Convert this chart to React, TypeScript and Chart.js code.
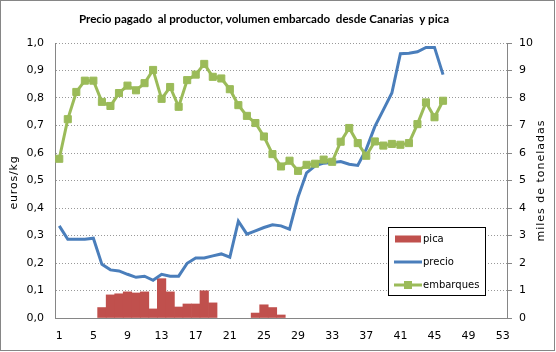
import React, { useEffect, useRef } from "react";
import { Chart, registerables } from "chart.js";

Chart.register(...registerables);

const TITLE = "Precio pagado  al productor, volumen embarcado  desde Canarias  y pica";
const LEFT_TITLE = "euros/kg";
const RIGHT_TITLE = "miles de toneladas";

const weeks = [
  "1", "2", "3", "4", "5", "6", "7", "8", "9", "10", "11", "12", "13", "14", "15", "16", "17", "18",
  "19", "20", "21", "22", "23", "24", "25", "26", "27", "28", "29", "30", "31", "32", "33", "34", "35",
  "36", "37", "38", "39", "40", "41", "42", "43", "44", "45", "46", "47", "48", "49", "50", "51", "52", "53",
];

const shownWeekLabels = ["1", "5", "9", "13", "17", "21", "25", "29", "33", "37", "41", "45", "49", "53"];

// euros/kg (left axis)
const pica = [
  null, null, null, null, null, 0.038, 0.084, 0.088, 0.095, 0.091, 0.095, 0.033, 0.143, 0.095, 0.04, 0.051,
  0.051, 0.099, 0.055, null, null, null, null, 0.018, 0.048, 0.038, 0.011, null, null, null, null, null,
  null, null, null, null, null, null, null, null, null, null, null, null, null, null, null, null, null,
  null, null, null, null,
];

// euros/kg (left axis)
const precio = [
  0.335, 0.286, 0.286, 0.286, 0.29, 0.195, 0.175, 0.171, 0.159, 0.148, 0.152, 0.137, 0.159, 0.152, 0.152,
  0.199, 0.218, 0.218, 0.226, 0.233, 0.221, 0.352, 0.305, 0.317, 0.329, 0.339, 0.335, 0.323, 0.44, 0.528,
  0.553, 0.563, 0.565, 0.569, 0.559, 0.555, 0.614, 0.696, 0.757, 0.818, 0.961, 0.963, 0.968, 0.984, 0.984,
  0.885, null, null, null, null, null, null, null,
];

// miles de toneladas (right axis)
const embarques = [
  5.79, 7.23, 8.22, 8.63, 8.63, 7.86, 7.71, 8.18, 8.45, 8.28, 8.54, 9.02, 7.97, 8.4, 7.68, 8.65, 8.85, 9.24,
  8.77, 8.71, 8.32, 7.74, 7.35, 7.09, 6.6, 5.96, 5.51, 5.72, 5.35, 5.57, 5.61, 5.76, 5.68, 6.41, 6.91, 6.36,
  5.9, 6.42, 6.27, 6.33, 6.3, 6.36, 7.05, 7.84, 7.3, 7.9, null, null, null, null, null, null, null,
];

const legendLabels = ["pica", "precio", "embarques"];

const RED = "#C0504D";
const BLUE = "#4A7EBB";
const GREEN = "#9BBB59";
const AXIS = "#868686";
const TICK_FONT = { family: "'DejaVu Sans'", size: 11 };

const decor = {
  id: "decor",
  afterDraw(chart: any) {
    const { ctx, chartArea: a, width, height } = chart;
    ctx.save();
    // chart border
    ctx.strokeStyle = AXIS;
    ctx.lineWidth = 1;
    ctx.strokeRect(0.5, 0.5, width - 2, height - 2);

    // title
    ctx.fillStyle = "#000";
    ctx.font = "bold 11.6px Lato";
    ctx.textAlign = "center";
    ctx.textBaseline = "alphabetic";
    ctx.fillText(TITLE, 264, 23);

    const midY = (a.top + a.bottom) / 2;
    // left axis title
    ctx.save();
    ctx.translate(14, midY + 2);
    ctx.rotate(-Math.PI / 2);
    ctx.font = "11px 'DejaVu Sans'";
    (ctx as any).letterSpacing = "0.8px";
    ctx.textBaseline = "middle";
    ctx.fillText(LEFT_TITLE, 0, 0);
    ctx.restore();

    // right axis title
    ctx.save();
    ctx.translate(541, midY);
    ctx.rotate(-Math.PI / 2);
    ctx.font = "11px 'DejaVu Sans'";
    (ctx as any).letterSpacing = "1px";
    ctx.textBaseline = "middle";
    ctx.fillText(RIGHT_TITLE, 0, 0);
    ctx.restore();

    // legend
    const bx = a.left + 333;
    const by = a.top + 184;
    const bw = 97;
    const bh = 68;
    ctx.fillStyle = "#fff";
    ctx.fillRect(bx, by, bw, bh);
    ctx.strokeStyle = "#000";
    ctx.lineWidth = 1;
    ctx.strokeRect(bx + 0.5, by + 0.5, bw, bh);
    const rows = [by + 12, by + 35, by + 58];
    // pica
    ctx.fillStyle = RED;
    ctx.fillRect(bx + 7, rows[0] - 3.5, 26, 7);
    // precio
    ctx.strokeStyle = BLUE;
    ctx.lineWidth = 3;
    ctx.beginPath();
    ctx.moveTo(bx + 6, rows[1]);
    ctx.lineTo(bx + 34, rows[1]);
    ctx.stroke();
    // embarques
    ctx.strokeStyle = GREEN;
    ctx.beginPath();
    ctx.moveTo(bx + 6, rows[2]);
    ctx.lineTo(bx + 34, rows[2]);
    ctx.stroke();
    ctx.fillStyle = GREEN;
    ctx.fillRect(bx + 16, rows[2] - 4, 8, 8);
    ctx.fillStyle = "#000";
    ctx.font = "10px 'DejaVu Sans'";
    ctx.textAlign = "left";
    ctx.textBaseline = "middle";
    legendLabels.forEach((t, i) => ctx.fillText(t, bx + 35, rows[i]));
    ctx.restore();
  },
};

export default function App() {
  const ref = useRef<HTMLCanvasElement>(null);
  useEffect(() => {
    if (!ref.current) return;
    const chart = new Chart(ref.current, {
      data: {
        labels: weeks,
        datasets: [
          {
            type: "bar",
            label: legendLabels[0],
            data: pica,
            backgroundColor: RED,
            barPercentage: 1,
            categoryPercentage: 1,
            yAxisID: "y",
            order: 3,
          },
          {
            type: "line",
            label: legendLabels[1],
            data: precio,
            borderColor: BLUE,
            borderWidth: 3,
            pointRadius: 0,
            tension: 0,
            yAxisID: "y",
            order: 2,
          },
          {
            type: "line",
            label: legendLabels[2],
            data: embarques,
            borderColor: GREEN,
            backgroundColor: GREEN,
            borderWidth: 3,
            pointStyle: "rect",
            pointRadius: 5,
            pointBorderWidth: 1,
            pointBorderColor: GREEN,
            pointBackgroundColor: GREEN,
            tension: 0,
            yAxisID: "y2",
            order: 1,
          },
        ],
      } as any,
      options: {
        responsive: false,
        animation: false,
        devicePixelRatio: 1,
        layout: { padding: { top: 43, left: 0, right: 0, bottom: 0 } },
        plugins: { legend: { display: false }, tooltip: { enabled: false }, title: { display: false } },
        scales: {
          x: {
            type: "category",
            offset: true,
            grid: { display: true, drawOnChartArea: false, drawTicks: false },
            border: { display: true, color: AXIS, width: 1 },
            ticks: {
              autoSkip: false,
              maxRotation: 0,
              padding: 12,
              color: "#000",
              font: TICK_FONT,
              callback: (_v: any, i: number) => (shownWeekLabels.includes(weeks[i]) ? weeks[i] : ""),
            },
            afterFit: (s: any) => {
              s.height = 34;
            },
          },
          y: {
            position: "left",
            min: 0,
            max: 1,
            grid: { color: "#999999", lineWidth: 1, drawTicks: false },
            border: { display: true, color: AXIS, width: 1, dash: [1, 2] },
            ticks: {
              stepSize: 0.1,
              padding: 11,
              color: "#000",
              font: TICK_FONT,
              callback: (v: any) => Number(v).toFixed(1).replace(".", ","),
            },
            afterFit: (s: any) => {
              s.width = 55;
            },
          },
          y2: {
            position: "right",
            min: 0,
            max: 10,
            grid: { drawOnChartArea: false, drawTicks: true, tickLength: 5, color: AXIS },
            border: { display: true, color: AXIS, width: 1 },
            ticks: {
              stepSize: 1,
              padding: 7,
              color: "#000",
              font: TICK_FONT,
            },
            afterFit: (s: any) => {
              s.width = 49;
            },
          },
        },
      } as any,
      plugins: [decor],
    });
    return () => chart.destroy();
  }, []);
  return (
    <div style={{ position: "absolute", left: 0, top: 0, width: 556, height: 352, background: "#fff" }}>
      <canvas ref={ref} width={556} height={352} style={{ width: 556, height: 352, display: "block" }} />
    </div>
  );
}
